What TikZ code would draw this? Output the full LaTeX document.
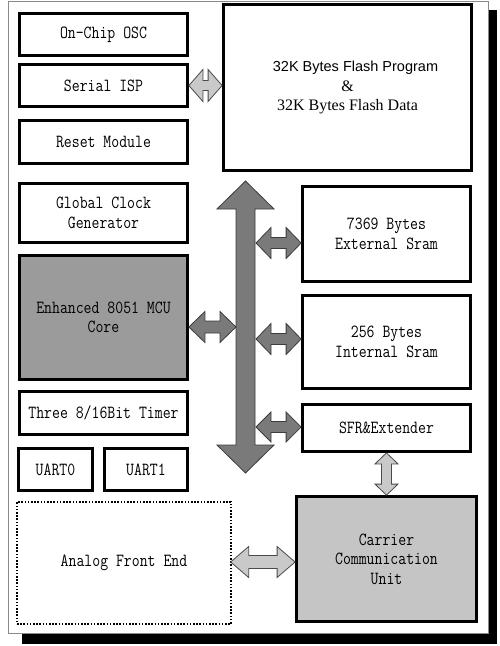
\documentclass[tikz,border=0pt]{standalone}
\usepackage{fontspec}
\setmainfont{Liberation Serif}
\newfontfamily\monof[FakeStretch=0.83]{Latin Modern Mono}
\newfontfamily\sfl{Liberation Sans}
\usetikzlibrary{calc}
\definecolor{darkfill}{HTML}{7A7A7A}
\definecolor{darkedge}{HTML}{3C3C3C}
\definecolor{lightfill}{HTML}{C9C9C9}
\definecolor{lightedge}{HTML}{4A4A4A}
\definecolor{mcufill}{HTML}{9B9B9B}
\definecolor{ccufill}{HTML}{C5C5C5}
\definecolor{framegray}{HTML}{8A8A8A}
% horizontal double arrow: style, left point, right point, head length, head half-height, shaft half-height
\newcommand\HArrow[6]{%
  \draw[#1] let \p1=#2, \p2=#3 in
    (\x1,\y1) -- (\x1+#4pt,\y1+#5pt) -- (\x1+#4pt,\y1+#6pt) -- (\x2-#4pt,\y1+#6pt)
    -- (\x2-#4pt,\y1+#5pt) -- (\x2,\y1) -- (\x2-#4pt,\y1-#5pt) -- (\x2-#4pt,\y1-#6pt)
    -- (\x1+#4pt,\y1-#6pt) -- (\x1+#4pt,\y1-#5pt) -- cycle;}
% vertical double arrow: style, top point, bottom point, head length, head half-width, shaft half-width
\newcommand\VArrow[6]{%
  \draw[#1] let \p1=#2, \p2=#3 in
    (\x1,\y1) -- (\x1+#5pt,\y1-#4pt) -- (\x1+#6pt,\y1-#4pt) -- (\x1+#6pt,\y2+#4pt)
    -- (\x1+#5pt,\y2+#4pt) -- (\x1,\y2) -- (\x1-#5pt,\y2+#4pt) -- (\x1-#6pt,\y2+#4pt)
    -- (\x1-#6pt,\y1-#4pt) -- (\x1-#5pt,\y1-#4pt) -- cycle;}
\begin{document}
\begin{tikzpicture}[x=1pt,y=-1pt,
  box/.style={draw=black, line width=2.8pt, inner sep=0pt, align=center,
    font=\monof\fontsize{18.5}{19.5}\selectfont},
  darrow/.style={fill=darkfill, draw=darkedge, line width=0.8pt, line join=miter},
  larrow/.style={fill=lightfill, draw=lightedge, line width=0.8pt, line join=miter}]
\useasboundingbox (0,0) rectangle (500,646);
% shadow and frame
\fill[black] (22,10) rectangle (497,644);
\draw[framegray, fill=white, line width=1pt] (8,1) rectangle (488,633);
% left column
\node[box, minimum width=168pt, minimum height=42pt] (osc) at (103.5,34.5) {On-Chip OSC};
\node[box, minimum width=168pt, minimum height=42pt] (isp) at (103.5,85.5) {Serial ISP};
\node[box, minimum width=168pt, minimum height=43pt] (reset) at (103.5,142) {Reset Module};
\node[box, minimum width=168pt, minimum height=59pt] (gcg) at (103.5,213) {Global Clock\\Generator};
\node[box, fill=mcufill, minimum width=168pt, minimum height=124pt] (mcu) at (103.5,317.5) {Enhanced 8051 MCU\\Core};
\node[box, minimum width=168pt, minimum height=43pt] (timer) at (103.5,413) {Three 8/16Bit Timer};
\node[box, minimum width=74pt, minimum height=42pt] (uart0) at (55.5,469.5) {UART0};
\node[box, minimum width=83pt, minimum height=42pt] (uart1) at (146,469.5) {UART1};
\node[box, line width=1.3pt, dash pattern=on 1.6pt off 1.6pt, minimum width=214pt, minimum height=122pt] (afe) at (124,563) {Analog Front End};
% right column
\node[box, minimum width=248pt, minimum height=166pt] (flash) at (347.5,87.5)
  {{\sfl\fontsize{14.5}{19.5}\selectfont\hspace*{16pt}32K Bytes Flash Program}\\
   {\rmfamily\fontsize{16}{19.5}\selectfont \&}\\
   {\rmfamily\fontsize{16}{19.5}\selectfont 32K Bytes Flash Data}};
\node[box, minimum width=168pt, minimum height=95pt] (ext) at (386.5,234) {7369 Bytes\\External Sram};
\node[box, minimum width=168pt, minimum height=93pt] (int) at (386.5,342) {256 Bytes\\Internal Sram};
\node[box, minimum width=168pt, minimum height=47pt] (sfr) at (386.5,428) {SFR\&Extender};
\node[box, fill=ccufill, minimum width=180pt, minimum height=125pt] (ccu) at (386.5,559) {Carrier\\Communication\\Unit};
% bus
\coordinate (busT) at (245.5,181);
\coordinate (busB) at (245.5,473);
\coordinate (busW) at (236,327);
\coordinate (busE) at (256,327);
\VArrow{darrow}{(busT)}{(busB)}{28}{28.5}{9.5}
% connectors
\HArrow{larrow}{(isp.east)}{(flash.west)}{14}{16}{5}
\HArrow{darrow}{([yshift=-9.5pt]mcu.east)}{(busW)}{16}{15.5}{6}
\HArrow{darrow}{($(busE |- ext.west)+(0,9)$)}{(ext.west)}{15}{15.5}{5.5}
\HArrow{darrow}{($(busE |- int.west)+(0,-3)$)}{(int.west)}{15}{15.5}{5.5}
\HArrow{darrow}{($(busE |- sfr.west)+(0,-1)$)}{(sfr.west)}{15}{15}{5.5}
\VArrow{larrow}{(sfr.south)}{(ccu.north -| sfr.south)}{11}{11.5}{5}
\HArrow{larrow}{($(afe.east)+(-1,-1)$)}{(ccu.west)}{18}{15.5}{6.5}
\end{tikzpicture}
\end{document}
